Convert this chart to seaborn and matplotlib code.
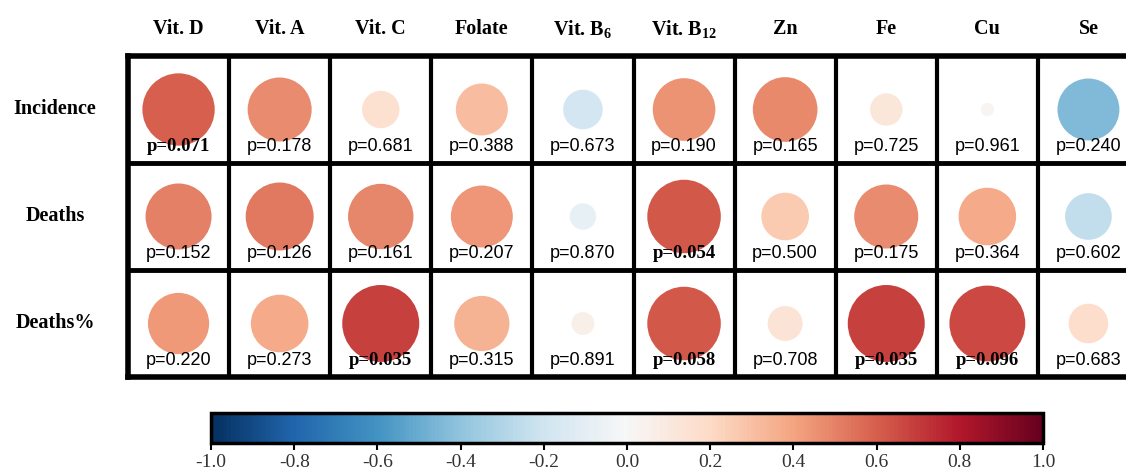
import numpy as np
import pandas as pd
import matplotlib
matplotlib.use("Agg")
import matplotlib.pyplot as plt
import seaborn as sns

columns = ["Vit. D", "Vit. A", "Vit. C", "Folate", "Vit. B$_{6}$", "Vit. B$_{12}$",
           "Zn", "Fe", "Cu", "Se"]
rows = ["Incidence", "Deaths", "Deaths%"]

r_incidence = [0.60, 0.47, 0.16, 0.31, -0.18, 0.45, 0.48, 0.12, 0.02, -0.44]
r_deaths = [0.50, 0.53, 0.49, 0.44, -0.08, 0.62, 0.26, 0.47, 0.38, -0.25]
r_deaths_pct = [0.43, 0.38, 0.68, 0.35, 0.06, 0.62, 0.14, 0.68, 0.66, 0.18]

p_incidence = [0.071, 0.178, 0.681, 0.388, 0.673, 0.190, 0.165, 0.725, 0.961, 0.240]
p_deaths = [0.152, 0.126, 0.161, 0.207, 0.870, 0.054, 0.500, 0.175, 0.364, 0.602]
p_deaths_pct = [0.220, 0.273, 0.035, 0.315, 0.891, 0.058, 0.708, 0.035, 0.096, 0.683]

cbar_ticks = [-1.0, -0.8, -0.6, -0.4, -0.2, 0.0, 0.2, 0.4, 0.6, 0.8, 1.0]

sns.set_theme(style="white")
plt.rcParams["font.family"] = ["Liberation Serif", "DejaVu Serif"]
plt.rcParams["text.color"] = "black"
plt.rcParams["axes.unicode_minus"] = False
plt.rcParams["mathtext.fontset"] = "custom"
plt.rcParams["mathtext.rm"] = "Liberation Serif:bold"
plt.rcParams["mathtext.default"] = "rm"

all_r = [r_incidence, r_deaths, r_deaths_pct]
all_p = [p_incidence, p_deaths, p_deaths_pct]
recs = []
for i, rname in enumerate(rows):
    for j, cname in enumerate(columns):
        recs.append({"row": i, "col": j, "r": all_r[i][j], "absr": abs(all_r[i][j]),
                     "p": all_p[i][j]})
df = pd.DataFrame(recs)

W, H = 1126, 474
fig = plt.figure(figsize=(W / 100, H / 100), dpi=100)
x0, x1 = 128, 128 + 1011
y0, y1 = 56, 377
ax = fig.add_axes([x0 / W, 1 - y1 / H, (x1 - x0) / W, (y1 - y0) / H])

sns.scatterplot(data=df, x="col", y="row", hue="r", palette="RdBu_r", hue_norm=(-1, 1),
                size="absr", sizes=(0, 4520), size_norm=(0, 1), linewidth=0,
                legend=False, ax=ax, zorder=2)
ax.set_xlim(-0.5, len(columns) - 0.5)
ax.set_ylim(len(rows) - 0.5, -0.5)
ax.set_xticks([])
ax.set_yticks([])
ax.set_xlabel("")
ax.set_ylabel("")
for s in ax.spines.values():
    s.set_linewidth(4)
    s.set_color("black")
for k in range(1, len(columns)):
    ax.axvline(k - 0.5, color="black", lw=3, zorder=3)
for k in range(1, len(rows)):
    ax.axhline(k - 0.5, color="black", lw=3.5, zorder=3)

for _, rec in df.iterrows():
    txt = f"p={rec['p']:.3f}"
    if rec["p"] < 0.1:
        ax.text(rec["col"], rec["row"] + 0.35, txt, ha="center", va="center",
                fontsize=13.5, fontweight="bold", family="Liberation Serif",
                color="black", zorder=4)
    else:
        ax.text(rec["col"], rec["row"] + 0.35, txt, ha="center", va="center",
                fontsize=13, family="Liberation Sans", color="black", zorder=4)

for j, cname in enumerate(columns):
    ax.text(j, -0.5 - 27 / 107, cname, ha="center", va="center",
            fontsize=14.5, fontweight="bold", color="black", clip_on=False)
for i, rname in enumerate(rows):
    fig.text(55 / W, 1 - (y0 + (i + 0.5) * (y1 - y0) / 3) / H, rname, ha="center",
             va="center", fontsize=14.5, fontweight="bold", color="black")

cax = fig.add_axes([211 / W, 1 - 443 / H, 832 / W, 30 / H])
sm = matplotlib.cm.ScalarMappable(norm=matplotlib.colors.Normalize(-1, 1),
                                  cmap=sns.color_palette("RdBu_r", as_cmap=True))
cb = fig.colorbar(sm, cax=cax, orientation="horizontal", ticks=cbar_ticks)
cb.outline.set_linewidth(2.5)
cb.outline.set_edgecolor("black")
cax.tick_params(axis="x", length=5, width=1.5, color="black", labelsize=14, pad=3,
                bottom=True)
cb.set_ticklabels([f"{t:.1f}" for t in cbar_ticks])
for lab in cax.get_xticklabels():
    lab.set_color("#333333")

fig.savefig("out.png", dpi=100)
